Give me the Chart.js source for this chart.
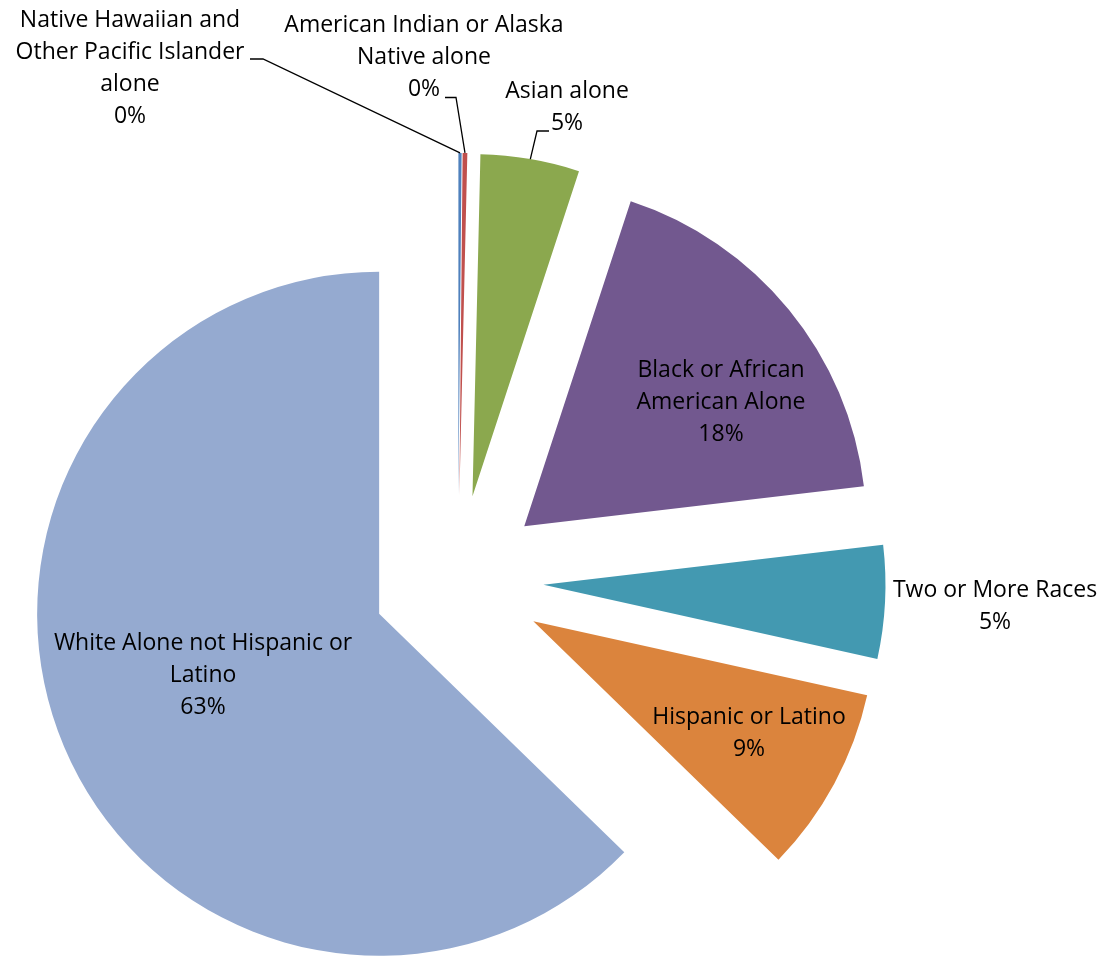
<!DOCTYPE html>
<html>
<head>
<meta charset="utf-8">
<title>Population by Race and Ethnicity</title>
<script src="https://cdn.jsdelivr.net/npm/chart.js@4.4.1/dist/chart.umd.min.js"></script>
<style>
  html, body { margin: 0; padding: 0; background: #fff; }
  #wrap { width: 1108px; height: 958px; }
</style>
</head>
<body>
<div id="wrap"><canvas id="raceChart" width="1108" height="958"></canvas></div>
<script>
/* ============================================================
   Data
   ============================================================ */
const categories = [
  ['Native Hawaiian and', 'Other Pacific Islander', 'alone'],
  ['American Indian or Alaska', 'Native alone'],
  ['Asian alone'],
  ['Black or African', 'American Alone'],
  ['Two or More Races'],
  ['Hispanic or Latino'],
  ['White Alone not Hispanic or', 'Latino']
];
const shares = [0.15, 0.22, 4.67, 18.09, 5.35, 8.80, 62.72];
const sliceColors = ['#4F81BD', '#C0504D', '#8BA84E', '#72588F', '#4399B1', '#DB843D', '#95AAD0'];

/* label anchors (first baseline, centred) and optional leader elbows */
const labelSpots = [
  { x: 130, y: 27, leader: [[250, 59], [263, 59]] },
  { x: 424, y: 32, leader: [[445, 97.5], [456, 97.5]] },
  { x: 567, y: 98, leader: [[549, 131], [537, 131]] },
  { x: 721, y: 377 },
  { x: 995, y: 597 },
  { x: 749, y: 724 },
  { x: 203, y: 650 }
];

/* ============================================================
   Plugins
   ============================================================ */
// push every slice out along its mid angle (Excel-style explosion)
const explodePlugin = {
  id: 'explode',
  afterDatasetsUpdate(chart, args, opts) {
    chart.getDatasetMeta(0).data.forEach(arc => {
      const mid = (arc.startAngle + arc.endAngle) / 2;
      arc.x += Math.cos(mid) * opts.distance;
      arc.y += Math.sin(mid) * opts.distance;
    });
  }
};

// category name + percent, with leader lines for the thin slices
const sliceLabels = {
  id: 'sliceLabels',
  afterDatasetsDraw(chart, args, opts) {
    const ctx = chart.ctx;
    const total = shares.reduce((a, b) => a + b, 0);
    ctx.save();
    ctx.font = opts.font;
    ctx.fillStyle = '#000';
    ctx.textAlign = 'center';
    ctx.textBaseline = 'alphabetic';
    chart.getDatasetMeta(0).data.forEach((arc, i) => {
      const spot = labelSpots[i];
      const lines = categories[i].concat([Math.round(shares[i] / total * 100) + '%']);
      lines.forEach((t, k) => ctx.fillText(t, spot.x, spot.y + k * opts.lineHeight));
      if (spot.leader) {
        const mid = (arc.startAngle + arc.endAngle) / 2;
        const ex = arc.x + Math.cos(mid) * arc.outerRadius;
        const ey = arc.y + Math.sin(mid) * arc.outerRadius;
        ctx.beginPath();
        ctx.moveTo(spot.leader[0][0], spot.leader[0][1]);
        spot.leader.slice(1).forEach(p => ctx.lineTo(p[0], p[1]));
        ctx.lineTo(ex, ey);
        ctx.lineWidth = 1.3;
        ctx.strokeStyle = '#000';
        ctx.stroke();
      }
    });
    ctx.restore();
  }
};

/* ============================================================
   Chart
   ============================================================ */
new Chart(document.getElementById('raceChart'), {
  type: 'pie',
  data: {
    labels: categories,
    datasets: [{
      data: shares,
      backgroundColor: sliceColors,
      borderWidth: 0,
      radius: 342
    }]
  },
  options: {
    responsive: false,
    animation: false,
    events: [],
    layout: { padding: { left: 0, right: 192, top: 203, bottom: 0 } },
    plugins: {
      legend: { display: false },
      tooltip: { enabled: false },
      explode: { distance: 85.6 },
      sliceLabels: { font: '23px "Open Sans"', lineHeight: 32 }
    }
  },
  plugins: [explodePlugin, sliceLabels]
});
</script>
</body>
</html>
